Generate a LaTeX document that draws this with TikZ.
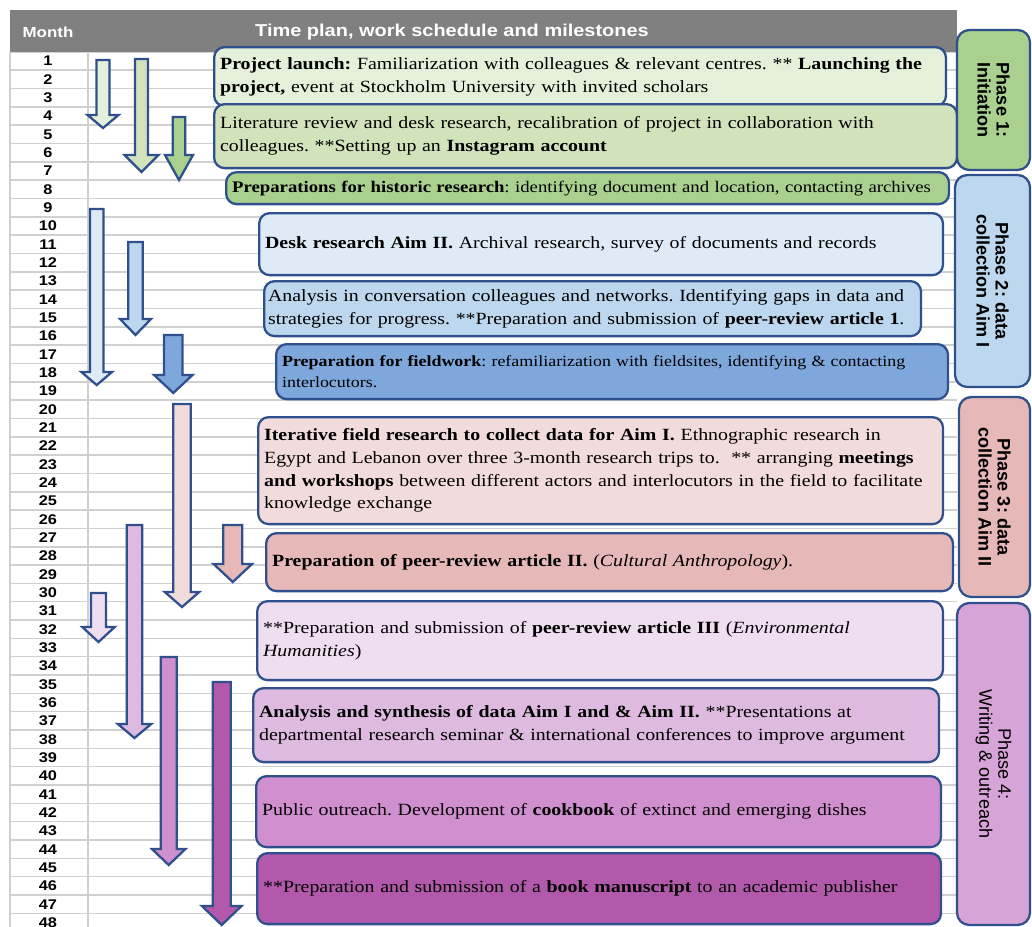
\documentclass[tikz,border=0pt]{standalone}
\usepackage{fontspec}
\setmainfont{Liberation Serif}[FakeStretch=1.16]
\newfontfamily\sanswide{Liberation Sans}[FakeStretch=1.16]
\newfontfamily\sansplain{Liberation Sans}
\usepackage{tikz}
\usetikzlibrary{positioning,calc}
\definecolor{HeadGray}{RGB}{128,128,128}
\definecolor{GridGray}{RGB}{208,208,208}
\definecolor{EdgeBlue}{RGB}{47,80,140}
\definecolor{GreenPale}{RGB}{229,240,219}
\definecolor{GreenLight}{RGB}{210,227,188}
\definecolor{GreenMid}{RGB}{169,208,142}
\definecolor{BluePale}{RGB}{222,235,247}
\definecolor{BlueLight}{RGB}{189,215,238}
\definecolor{BlueMid}{RGB}{126,167,220}
\definecolor{PinkPale}{RGB}{242,220,219}
\definecolor{PinkMid}{RGB}{230,185,184}
\definecolor{LilacPale}{RGB}{239,221,240}
\definecolor{LilacLight}{RGB}{223,186,224}
\definecolor{LilacMid}{RGB}{208,143,207}
\definecolor{LilacDark}{RGB}{178,89,172}
\definecolor{PhaseLilac}{RGB}{214,164,214}
\tikzset{
  task/.style={draw=EdgeBlue,line width=1.3pt,rounded corners=6pt,anchor=north west,align=left,
    inner xsep=0.12cm,inner ysep=0pt,font=\fontsize{9.75}{12.9}\selectfont},
  phase/.style={draw=EdgeBlue,line width=1.3pt,rounded corners=7pt,rotate=-90,align=center,inner sep=0pt,
    font=\sansplain\bfseries\fontsize{10.3}{10.8}\selectfont},
  barrow/.style={draw=EdgeBlue,line width=1.3pt,line join=miter},
  grid/.style={draw=GridGray,line width=0.9pt},
}
\tikzset{monthnum/.style={font=\sanswide\bfseries\fontsize{8}{9}\selectfont,inner sep=0pt},
  headtxt/.style={text=white,font=\sanswide\bfseries\fontsize{9.8}{11}\selectfont,inner sep=0pt}}

\begin{document}
\frenchspacing
\begin{tikzpicture}[x=0.02cm,y=-0.02cm]
\useasboundingbox (0,0) rectangle (1032,927);
\foreach \i in {0,...,47} \draw[grid] (10,{51.8+\i*18.33}) -- (957,{51.8+\i*18.33});
\draw[grid] (10,52) -- (10,927); \draw[grid] (88,52) -- (88,927);
\fill[HeadGray] (10,10) rectangle (957,52);
\node[headtxt,font=\sanswide\bfseries\fontsize{8.3}{10}\selectfont] (month) at (48,32) {Month};
\node[headtxt] (title) at (452,32) {Time plan, work schedule and milestones};
\foreach \m in {1,...,48} \node[monthnum] (m\m) at (48,{61+(\m-1)*18.33}) {\m};
\foreach \cx/\ya/\yb/\yc/\sw/\hw/\col in {
  103/60/115/128/6.5/15.5/GreenPale, 141.5/59/155/172/6.5/17/GreenLight, 179/117/155/180/6.2/14/GreenMid,
  96.7/209/372/385/6.7/15.3/BluePale, 135.5/242/319/335/7.2/15.5/BlueLight, 173.3/335/375/393/9.3/19.2/BlueMid,
  182/404/592/607/8.7/17.2/PinkPale, 232.8/525/564/582/9.5/19.2/PinkMid,
  98.5/593/627/642/7.5/16.2/LilacPale, 134.5/525/724/738/7.8/16.7/LilacLight,
  168.7/657/849/865/8/16.7/LilacMid, 221.7/682/906/925/9/19.8/LilacDark}
  \draw[barrow,fill=\col] ({\cx-\sw},\ya) -- ({\cx+\sw},\ya) -- ({\cx+\sw},\yb) -- ({\cx+\hw},\yb)
    -- (\cx,\yc) -- ({\cx-\hw},\yb) -- ({\cx-\sw},\yb) -- cycle;
\node[task,fill=GreenPale,minimum width=14.64cm,minimum height=1.18cm,text width=14.40cm] (launch) at (213,46)
  {\textbf{Project launch:} Familiarization with colleagues \& relevant centres. ** \textbf{Launching the}\\
   \textbf{project,} event at Stockholm University with invited scholars};
\node[task,fill=GreenLight,minimum width=14.86cm,minimum height=1.28cm,text width=14.62cm] (litrev) at (213,103)
  {Literature review and desk research, recalibration of project in collaboration with\\
   colleagues. **Setting up an \textbf{Instagram account}};
\node[task,fill=GreenMid,minimum width=14.46cm,minimum height=0.64cm,text width=14.22cm,
  font=\fontsize{9.2}{11}\selectfont] (histprep) at (225,171)
  {\textbf{Preparations for historic research}: identifying document and location, contacting archives};
\node[task,fill=BluePale,minimum width=13.68cm,minimum height=1.24cm,text width=13.44cm] (desk) at (258,212)
  {\textbf{Desk research Aim II.} Archival research, survey of documents and records};
\node[task,fill=BlueLight,minimum width=13.14cm,minimum height=1.10cm,text width=12.98cm,inner xsep=0.08cm]
  (analysis) at (263,280)
  {Analysis in conversation colleagues and networks. Identifying gaps in data and\\
   strategies for progress. **Preparation and submission of \textbf{peer-review article 1}.};
\node[task,fill=BlueMid,minimum width=13.44cm,minimum height=1.10cm,text width=13.20cm,
  font=\fontsize{8.8}{11.6}\selectfont] (fieldprep) at (275,343)
  {\textbf{Preparation for fieldwork}: refamiliarization with fieldsites, identifying \& contacting\\ interlocutors.};
\node[task,fill=PinkPale,minimum width=13.70cm,minimum height=2.14cm,text width=13.46cm] (field) at (257,416)
  {\textbf{Iterative field research to collect data for Aim I.} Ethnographic research in\\
   Egypt and Lebanon over three 3-month research trips to.~~** arranging \textbf{meetings}\\
   \textbf{and workshops} between different actors and interlocutors in the field to facilitate\\
   knowledge exchange};
\node[task,fill=PinkMid,minimum width=13.74cm,minimum height=1.16cm,text width=13.50cm] (art2) at (265,532)
  {\textbf{Preparation of peer-review article II.} (\textit{Cultural Anthropology}).};
\node[task,fill=LilacPale,minimum width=13.72cm,minimum height=1.58cm,text width=13.48cm] (art3) at (256,600)
  {**Preparation and submission of \textbf{peer-review article III} (\textit{Environmental}\\ \textit{Humanities})};
\node[task,fill=LilacLight,minimum width=13.72cm,minimum height=1.48cm,text width=13.48cm] (synth) at (252,687)
  {\textbf{Analysis and synthesis of data Aim I and \& Aim II.} **Presentations at\\
   departmental research seminar \& international conferences to improve argument};
\node[task,fill=LilacMid,minimum width=13.70cm,minimum height=1.42cm,text width=13.46cm] (outreach) at (255,775)
  {Public outreach. Development of \textbf{cookbook} of extinct and emerging dishes};
\node[task,fill=LilacDark,minimum width=13.68cm,minimum height=1.42cm,text width=13.44cm] (book) at (256,852)
  {**Preparation and submission of a \textbf{book manuscript} to an academic publisher};
\node[phase,fill=GreenMid,minimum width=2.80cm,minimum height=1.46cm] (ph1) at (993.5,100) {Phase 1:\\Initiation};
\node[phase,fill=BlueLight,minimum width=4.24cm,minimum height=1.50cm] (ph2) at (992.5,281) {Phase 2: data\\collection Aim I};
\node[phase,fill=PinkMid,minimum width=4.00cm,minimum height=1.42cm] (ph3) at (994.5,497) {Phase 3: data\\collection Aim II};
\node[phase,fill=PhaseLilac,minimum width=6.44cm,minimum height=1.46cm,font=\sansplain\fontsize{10.3}{10.8}\selectfont]
  (ph4) at (993.5,764) {Phase 4:\\Writing \& outreach};
\end{tikzpicture}
\end{document}
